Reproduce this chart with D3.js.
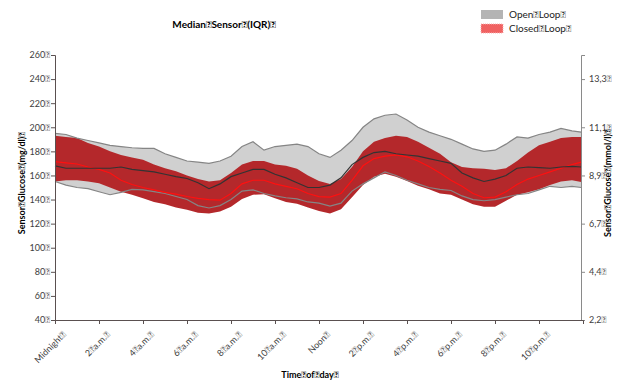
<!DOCTYPE html>
<html>
<head>
<meta charset="utf-8">
<script src="https://cdn.jsdelivr.net/npm/d3@7"></script>
<style>
  body { margin: 0; background: #fff; }
  text { font-family: Lato, "Open Sans", sans-serif; }
</style>
</head>
<body>
<div id="chart"></div>
<script>
const SP = "\uF020"; // the source text carries this glyph in place of spaces

// hours of day, every half hour; last sample is 23:55
const hours = [0, 0.5, 1, 1.5, 2, 2.5, 3, 3.5, 4, 4.5, 5, 5.5, 6, 6.5, 7, 7.5, 8, 8.5, 9, 9.5,
  10, 10.5, 11, 11.5, 12, 12.5, 13, 13.5, 14, 14.5, 15, 15.5, 16, 16.5, 17, 17.5, 18, 18.5, 19, 19.5,
  20, 20.5, 21, 21.5, 22, 22.5, 23, 23.5, 23.92];

// open loop: 75th percentile, median, 25th percentile (mg/dl)
const openP75 = [195, 194, 191, 189, 187, 185, 184, 183, 182.5, 182.5, 178, 175, 172, 171, 170, 172, 176, 184, 188, 181,
  184, 185, 186, 184, 178, 175, 181, 189, 200, 207, 210, 211, 206, 200, 196, 193, 190, 186, 182, 180,
  181, 186, 192, 191, 194, 196, 199, 197, 196];
const openMedian = [168, 166, 166, 166, 166, 166, 167, 165, 164, 163, 161, 159, 157.5, 154, 149, 153, 159, 162, 165, 165,
  161, 158, 154, 150, 150, 152, 158, 169, 175, 179, 180, 178, 177, 176, 174, 172, 170, 162, 158, 155,
  157, 160, 166, 167, 166.5, 166, 167, 167.5, 167];
const openP25 = [155, 152, 150, 149, 146.5, 144, 146, 148.5, 148, 146.5, 145, 142.5, 140, 135, 133, 135, 140, 147, 148, 145,
  143, 141.5, 140.5, 138, 137, 134.5, 137, 147, 153, 158, 163, 160, 156, 153, 150, 148.5, 147.5, 143, 140, 139,
  140, 142, 144, 145, 148, 151, 150, 151, 150];

// closed loop
const closedP75 = [193, 192, 191, 187, 184, 180, 177, 175, 173, 169, 166, 163.5, 160, 157, 155, 156, 162, 169, 172, 172,
  169, 168, 165.5, 160, 155.5, 153, 157, 167, 180, 188, 191, 193, 192, 188, 183, 178, 171, 167, 166, 165.5,
  164.5, 166, 172, 179, 185, 188, 191, 192, 192];
const closedMedian = [171.5, 170.5, 169.5, 167, 165, 162, 156, 152.5, 150, 148, 146, 144.5, 142.5, 141, 140, 139.5, 145, 153, 156, 156,
  153, 151, 149, 145, 142.5, 142, 145, 156, 168, 174, 176, 177, 175.5, 172, 167.5, 162, 156, 151, 145, 141.5,
  142, 146.5, 152.5, 157, 160, 163, 166, 169, 171];
const closedP25 = [155, 156, 156, 155, 153.5, 150, 146.5, 144, 141, 138, 136, 133.5, 131.5, 129, 128.5, 130, 134, 140.5, 144, 144.5,
  141, 138, 136.5, 133.5, 130.5, 128.5, 132, 142, 152, 159, 161.5, 159, 155.5, 151.5, 148.5, 145, 144, 140, 136, 134,
  134, 139, 144, 146, 148.5, 152, 155, 156, 154.5];

const tickHours = [0, 2, 4, 6, 8, 10, 12, 14, 16, 18, 20, 22];
const tickLabels = ["Midnight", "2 a.m.", "4 a.m.", "6 a.m.", "8 a.m.", "10 a.m.", "Noon",
  "2 p.m.", "4 p.m.", "6 p.m.", "8 p.m.", "10 p.m."];
const mgTicks = [40, 60, 80, 100, 120, 140, 160, 180, 200, 220, 240, 260];
const mmolTicks = [40, 80, 120, 160, 200, 240]; // positions in mg/dl, labelled in mmol/l

const fix = s => s.replace(/ /g, SP) + SP;

const width = 619, height = 381;
const svg = d3.select("#chart").append("svg")
  .attr("width", width)
  .attr("height", height);

const x = d3.scaleLinear().domain([0, 24]).range([55, 583]);
const y = d3.scaleLinear().domain([40, 260]).range([320, 55]);

const rows = hours.map((h, i) => ({
  h, oU: openP75[i], oM: openMedian[i], oL: openP25[i],
  cU: closedP75[i], cM: closedMedian[i], cL: closedP25[i]
}));

const band = (lo, hi) => d3.area().x(d => x(d.h)).y0(d => y(d[lo])).y1(d => y(d[hi]));
const line = k => d3.line().x(d => x(d.h)).y(d => y(d[k]));

// open loop band
svg.append("path").datum(rows).attr("d", band("oL", "oU")).attr("fill", "#d0d0d0");
// closed loop band
svg.append("path").datum(rows).attr("d", band("cL", "cU")).attr("fill", "#b4282b");

// open loop band edges
["oU", "oL"].forEach(k => {
  svg.append("path").datum(rows).attr("d", line(k))
    .attr("fill", "none").attr("stroke", "#858585").attr("stroke-width", 1.2);
});
svg.append("path").datum(rows).attr("d", line("cM"))
  .attr("fill", "none").attr("stroke", "#ff1010").attr("stroke-width", 1.2);
svg.append("path").datum(rows).attr("d", line("oM"))
  .attr("fill", "none").attr("stroke", "#333", ).attr("stroke-width", 1.2);

// axes
const yAxis = svg.append("g")
  .attr("transform", "translate(55,0)")
  .call(d3.axisLeft(y).tickValues(mgTicks).tickSize(4).tickFormat(d => fix(String(d))));
const yAxisR = svg.append("g")
  .attr("transform", "translate(581,0)")
  .call(d3.axisRight(y).tickValues(mmolTicks).tickSize(4)
    .tickFormat(d => fix((d / 18).toFixed(1).replace(".", ","))));
const xAxis = svg.append("g")
  .attr("transform", "translate(0,320)")
  .call(d3.axisBottom(x).tickValues(tickHours).tickSize(4)
    .tickFormat((d, i) => fix(tickLabels[i])));

[yAxis, yAxisR, xAxis].forEach(g => {
  g.select(".domain").attr("stroke", "#5a5050");
  g.selectAll(".tick line").attr("stroke", "#5a5050");
  g.selectAll("text").attr("fill", "#404040").style("font-size", "9px");
});
yAxisR.select(".domain").attr("stroke", "#8a8a8a");
yAxisR.selectAll(".tick line").attr("stroke", "#8a8a8a");
yAxis.selectAll("text").attr("x", -5);
yAxisR.selectAll("text").attr("x", 8);

xAxis.selectAll("text")
  .attr("text-anchor", "end")
  .attr("dy", "0.35em")
  .attr("transform", "translate(4,8) rotate(-45)");

// titles
svg.append("text").attr("x", 224).attr("y", 28).attr("text-anchor", "middle")
  .style("font-size", "10px").style("font-weight", "bold").text(fix("Median Sensor (IQR)"));
svg.append("text").attr("x", 310).attr("y", 378).attr("text-anchor", "middle")
  .style("font-size", "9px").style("font-weight", "bold").text(fix("Time of day"));
svg.append("text").attr("transform", "translate(25,183) rotate(-90)").attr("text-anchor", "middle")
  .style("font-size", "9px").style("font-weight", "bold").text(fix("Sensor Glucose (mg/dl)"));
svg.append("text").attr("transform", "translate(611,183) rotate(-90)").attr("text-anchor", "middle")
  .style("font-size", "9px").style("font-weight", "bold").text(fix("Sensor Glucose (mmol/l)"));

// legend
const legendItems = ["Open Loop", "Closed Loop"];
const legendFill = ["#b4b4b4", "#f06262"];
const legend = svg.append("g").attr("transform", "translate(481,10)");
legendItems.forEach((name, i) => {
  legend.append("rect").attr("x", 0).attr("y", i * 14).attr("width", 22).attr("height", 9)
    .attr("fill", legendFill[i])
    .attr("stroke", i === 1 ? "#f9b0b0" : "none").attr("stroke-dasharray", "1,1");
  legend.append("text").attr("x", 28).attr("y", i * 14 + 8)
    .style("font-size", "10px").attr("fill", "#222").text(fix(name));
});
</script>
</body>
</html>
